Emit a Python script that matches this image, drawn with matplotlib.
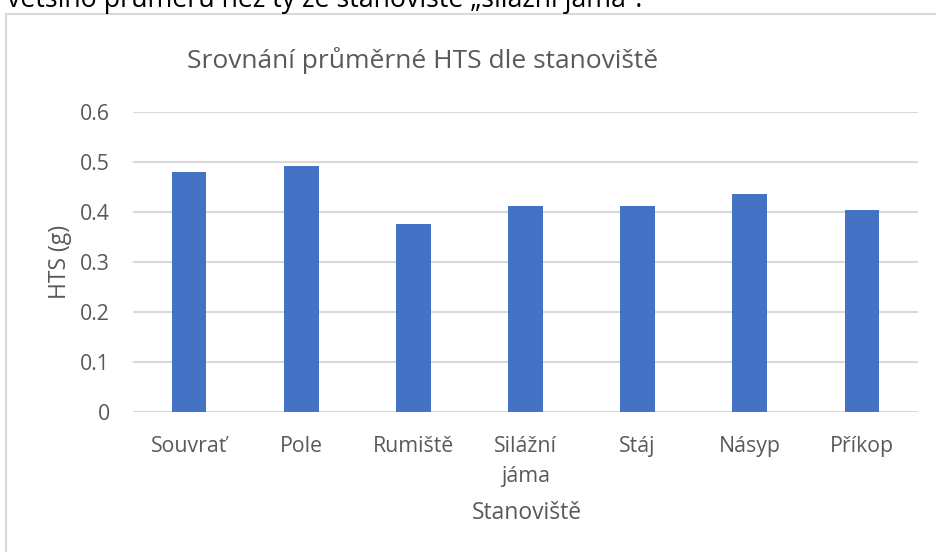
import matplotlib.pyplot as plt
from matplotlib.patches import Rectangle

# data
stanoviste = ['Souvrať', 'Pole', 'Rumiště', 'Silážní\njáma', 'Stáj', 'Násyp', 'Příkop']
hts = [0.480, 0.492, 0.377, 0.413, 0.413, 0.436, 0.405]
yticks = [0, 0.1, 0.2, 0.3, 0.4, 0.5, 0.6]

plt.rcParams['font.family'] = ['Open Sans', 'DejaVu Sans']

W, H = 936, 552
fig = plt.figure(figsize=(W / 100, H / 100), dpi=100)

# rámeček grafu (pravá a spodní hrana jsou mimo výřez)
fig.patches.append(Rectangle((6 / W, -0.1), 2, 1 - 14 / H + 0.1, transform=fig.transFigure,
                             fill=False, ec='#d9d9d9', lw=1.5))

# useknutý text nad grafem
fig.text(7 / W, 1 - 7 / H, 'většino průměru než ty ze stanoviště „silážní jáma“.',
         fontsize=19.3, color='black', ha='left', va='baseline')

ax = fig.add_axes([133 / W, 1 - 412 / H, (918 - 133) / W, 300 / H])
x = range(len(stanoviste))
ax.bar(x, hts, width=0.31, color='#4472C4', zorder=3)
ax.set_xlim(-0.5, len(stanoviste) - 0.5)
ax.set_ylim(0, 0.6)
ax.set_yticks(yticks)
ax.set_yticklabels(['0' if v == 0 else f'{v:.1f}' for v in yticks])
ax.set_xticks(list(x))
ax.set_xticklabels(stanoviste, linespacing=1.6)
ax.grid(axis='y', color='#d9d9d9', lw=1.5, zorder=0)
for s in ax.spines.values():
    s.set_visible(False)
ax.tick_params(axis='both', length=0, labelsize=15.3, colors='#595959')
ax.tick_params(axis='y', pad=16.5)
ax.tick_params(axis='x', pad=17)

ax.set_ylabel('HTS (g)', fontsize=16.5, color='#595959', va='center')
ax.yaxis.set_label_coords(-0.093, 0.5)
ax.set_xlabel('Stanoviště', fontsize=16.5, color='#595959', va='center')
ax.xaxis.set_label_coords(0.502, -0.337)

fig.text(423 / W, 1 - 60 / H, 'Srovnání průměrné HTS dle stanoviště',
         fontsize=19, color='#595959', ha='center', va='center')

fig.savefig('out.png', dpi=100)
